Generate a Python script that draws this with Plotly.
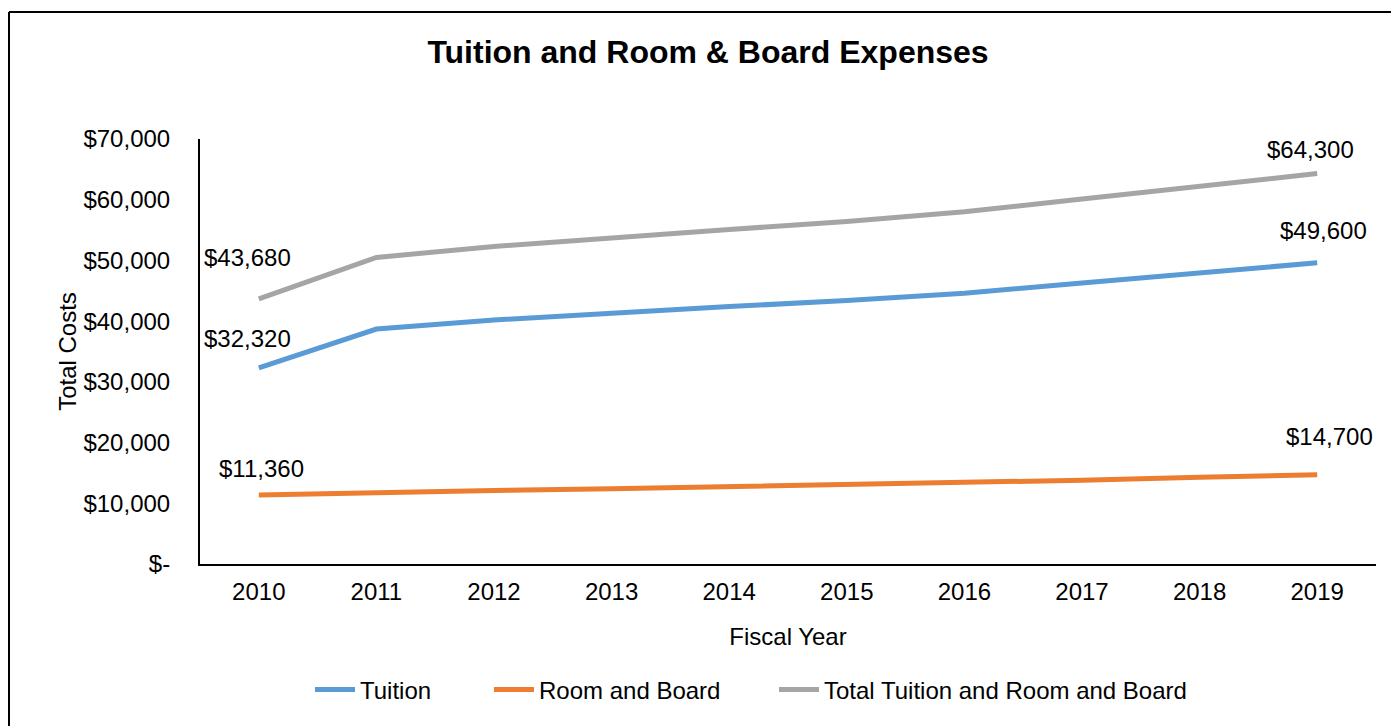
import plotly.graph_objects as go

# Fiscal years and cost series (USD)
years = ["2010", "2011", "2012", "2013", "2014", "2015", "2016", "2017", "2018", "2019"]
tuition = [32320, 38700, 40200, 41400, 42400, 43400, 44600, 46300, 48000, 49600]
room_board = [11360, 11800, 12100, 12400, 12700, 13000, 13400, 13800, 14300, 14700]
total = [43680, 50500, 52300, 53800, 55100, 56400, 58000, 60100, 62300, 64300]

y_ticks = [0, 10000, 20000, 30000, 40000, 50000, 60000, 70000]
y_tick_text = ["$-" if v == 0 else f"${v:,.0f}" for v in y_ticks]

FONT = "Liberation Sans, Arial, sans-serif"
FS = 24
W, H = 1391, 726
L, R, T, B = 200, 15, 139, 162

# name, values, colour, legend id, legend text x-position (px)
series = [
    ("Tuition", tuition, "#5B9BD5", "legend", 358),
    ("Room and Board", room_board, "#ED7D31", "legend2", 537),
    ("Total Tuition and Room and Board", total, "#A5A5A5", "legend3", 822),
]

fig = go.Figure()
for name, vals, color, leg, _ in series:
    fig.add_trace(go.Scatter(
        x=years, y=vals, name=name, mode="lines",
        line=dict(color=color, width=5),
        hoverinfo="x+y", legend=leg,
    ))

# End-point value labels: (series values, index, x shift px, y shift px)
label_specs = [
    (total, 0, -11, 41),
    (tuition, 0, -11, 29),
    (room_board, 0, 3, 27),
    (total, len(years) - 1, -7, 24),
    (tuition, len(years) - 1, 6, 32),
    (room_board, len(years) - 1, 12, 38),
]
annotations = []
for vals, i, dx, dy in label_specs:
    annotations.append(dict(
        x=i, y=vals[i], xref="x", yref="y", text=f"${vals[i]:,.0f}",
        showarrow=False, xshift=dx, yshift=dy,
        xanchor="center", yanchor="middle",
        font=dict(family=FONT, size=FS, color="#000000"),
    ))

pw, ph = W - L - R, H - T - B
# Chart frame: top and left edges
frame_x0 = (9 - L) / pw
frame_top = (H - B - 12) / ph
fig.add_shape(type="line", xref="paper", yref="paper",
              x0=frame_x0, x1=(W + 20 - L) / pw, y0=frame_top, y1=frame_top,
              line=dict(color="#000000", width=2))
fig.add_shape(type="line", xref="paper", yref="paper",
              x0=frame_x0, x1=frame_x0, y0=frame_top, y1=-(B + 20) / ph,
              line=dict(color="#000000", width=2))


def legend_box(text_x):
    return dict(
        orientation="h", xref="container", yref="container",
        x=(text_x - 48) / W, xanchor="left", y=1 - 690 / H, yanchor="middle",
        font=dict(family=FONT, size=FS), itemwidth=40,
        bgcolor="rgba(0,0,0,0)",
    )


legends = {leg: legend_box(tx) for _, _, _, leg, tx in series}

fig.update_layout(
    width=W, height=H,
    margin=dict(l=L, r=R, t=T, b=B, autoexpand=False),
    paper_bgcolor="#FFFFFF", plot_bgcolor="#FFFFFF",
    font=dict(family=FONT, size=FS, color="#000000"),
    title=dict(
        text="<b>Tuition and Room & Board Expenses</b>",
        x=708 / W, xref="container", xanchor="center",
        y=1 - 52 / H, yref="container", yanchor="middle",
        font=dict(family=FONT, size=32, color="#000000"),
    ),
    xaxis=dict(
        type="category", range=[-0.5, 9.5],
        showgrid=False, zeroline=False,
        showline=True, linecolor="#000000", linewidth=2,
        ticks="", ticklabelstandoff=5,
        tickfont=dict(family=FONT, size=FS),
        title=dict(text="Fiscal Year", standoff=24,
                   font=dict(family=FONT, size=FS)),
        fixedrange=True,
    ),
    yaxis=dict(
        range=[0, 70000], tickvals=y_ticks, ticktext=y_tick_text,
        showgrid=False, zeroline=False,
        showline=True, linecolor="#000000", linewidth=2,
        ticks="", ticklabelstandoff=23,
        tickfont=dict(family=FONT, size=FS),
        title=dict(text="Total Costs", standoff=0,
                   font=dict(family=FONT, size=FS)),
        fixedrange=True,
    ),
    annotations=annotations,
    showlegend=True,
    **legends,
)

fig.write_html("out.html")
